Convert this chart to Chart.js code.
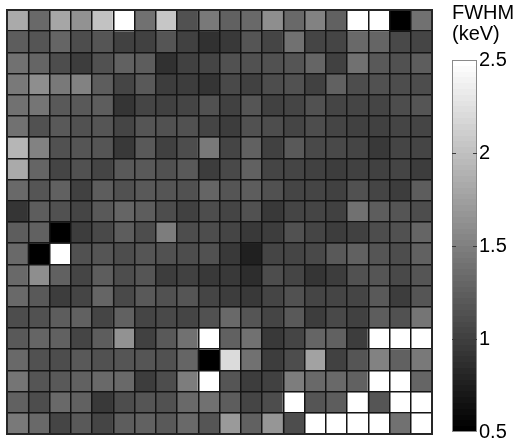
<!DOCTYPE html>
<html>
<head>
<meta charset="utf-8">
<title>FWHM map</title>
<script src="https://cdn.jsdelivr.net/npm/chart.js@4.4.1/dist/chart.umd.min.js"></script>
<style>
  html, body { margin: 0; padding: 0; background: #fff; overflow: hidden; }
  #mapBox { position: absolute; left: 0; top: 0; width: 440px; height: 442px; }
  #barBox { position: absolute; left: 440px; top: 0; width: 80px; height: 442px; }
</style>
</head>
<body>
<div id="mapBox"><canvas id="map"></canvas></div>
<div id="barBox"><canvas id="bar"></canvas></div>
<script>
// Pixel columns of the detector, left to right
const pixelColumns = ['1','2','3','4','5','6','7','8','9','10','11','12','13','14','15','16','17','18','19','20'];

// FWHM per pixel (keV), one array per detector row, top to bottom.
// Values above 2.5 or below 0.5 saturate the colour scale.
const row01 = [1.82,1.33,1.79,1.63,2.00,2.60,1.39,2.04,1.13,1.44, 1.25,1.32,1.60,1.33,1.50,1.25,2.60,2.60,0.40,1.38];
const row02 = [1.22,1.17,1.30,1.10,1.17,1.00,1.00,1.17,1.00,0.88, 0.94,1.17,1.06,1.39,1.06,1.04,1.33,1.30,1.08,1.06];
const row03 = [1.38,1.30,1.10,0.97,1.14,1.25,1.22,0.88,1.00,1.06, 1.14,1.14,1.13,1.17,1.30,1.02,1.38,1.19,1.14,1.24];
const row04 = [1.44,1.60,1.44,1.50,1.22,1.04,1.19,0.97,0.99,0.92, 1.08,1.00,1.10,1.13,1.00,1.25,1.10,1.14,1.10,1.10];
const row05 = [1.38,1.41,1.19,1.19,1.22,0.92,1.06,1.00,1.04,1.13, 1.00,1.17,1.00,1.04,1.14,1.06,1.04,1.04,1.10,1.17];
const row06 = [1.38,1.13,1.19,1.14,1.17,1.04,1.17,1.13,1.13,1.06, 0.97,1.14,1.10,1.06,1.10,1.04,1.00,1.02,1.06,1.06];
const row07 = [1.91,1.50,1.13,1.17,1.17,0.96,1.19,1.00,1.10,1.44, 1.06,1.28,1.00,1.19,1.08,1.08,1.06,0.94,1.06,1.04];
const row08 = [1.82,1.30,1.06,1.14,1.06,1.19,1.19,1.14,1.19,0.97, 1.08,1.27,1.06,1.04,1.00,0.99,1.00,1.02,1.04,0.97];
const row09 = [1.32,1.17,1.25,1.00,1.22,1.14,1.19,1.17,1.14,1.30, 1.17,1.22,1.14,1.06,1.06,1.00,1.14,1.06,0.97,1.22];
const row10 = [0.92,1.22,1.14,1.06,1.19,1.30,1.22,1.10,1.00,1.10, 1.04,1.14,0.94,1.06,1.04,1.00,1.38,1.22,1.17,1.10];
const row11 = [1.22,1.27,0.40,0.97,1.08,1.22,1.10,1.47,1.10,1.10, 1.06,0.94,0.97,1.14,1.06,0.99,1.02,1.10,1.13,1.30];
const row12 = [1.33,0.40,2.60,1.14,1.17,1.10,1.17,1.14,1.10,1.14, 0.94,0.77,1.04,1.04,1.08,1.21,1.27,1.17,1.10,1.27];
const row13 = [1.33,1.60,1.27,1.06,1.22,1.10,1.17,0.97,1.00,0.94, 0.96,0.86,1.10,1.04,0.92,0.97,1.14,1.17,1.08,1.17];
const row14 = [1.33,1.21,0.97,1.04,1.30,1.08,1.21,1.13,1.17,1.04, 0.99,0.94,1.04,1.13,1.06,1.04,1.06,1.19,0.97,1.17];
const row15 = [1.10,1.14,1.22,1.25,1.06,1.27,1.04,1.08,1.04,1.13, 1.33,1.17,1.06,1.19,0.97,1.08,1.02,1.22,1.13,1.43];
const row16 = [1.19,1.30,1.28,1.06,1.22,1.63,1.02,1.19,1.38,2.60, 1.27,1.38,0.94,1.06,1.30,1.25,0.99,2.60,2.60,2.60];
const row17 = [1.33,1.13,1.10,1.19,1.13,1.17,1.17,1.14,1.30,0.40, 2.19,1.38,0.97,1.10,1.75,1.02,1.17,1.50,1.28,1.44];
const row18 = [1.43,1.17,1.19,1.25,1.32,1.32,0.97,1.10,1.47,2.60, 1.17,0.97,1.00,1.47,1.33,1.33,1.25,2.60,2.60,1.30];
const row19 = [1.27,1.10,1.33,1.27,0.94,1.10,1.17,1.14,1.32,1.39, 1.22,1.06,1.10,2.60,1.17,1.22,2.60,1.17,2.60,2.60];
const row20 = [1.44,1.32,1.04,1.19,1.06,1.22,1.27,1.19,1.33,1.17, 1.71,1.25,1.66,1.10,2.60,2.60,2.60,2.60,1.38,2.60];

const pixelRows = [row01,row02,row03,row04,row05,row06,row07,row08,row09,row10,
                   row11,row12,row13,row14,row15,row16,row17,row18,row19,row20];

// Colour scale limits and colour-bar ticks (keV)
const colorMin = 0.5;
const colorMax = 2.5;
const colorTicks = [0.5, 1, 1.5, 2, 2.5];
const colorLevels = 64;

Chart.defaults.font.family = "'Liberation Sans', Arial, Helvetica, sans-serif";
Chart.defaults.color = '#000';

// 64-step gray colormap
function levelGray(i) {
  const g = Math.round(i * 255 / (colorLevels - 1));
  return 'rgb(' + g + ',' + g + ',' + g + ')';
}
function grayFor(v) {
  let i = Math.floor((v - colorMin) / (colorMax - colorMin) * colorLevels);
  i = Math.max(0, Math.min(colorLevels - 1, i));
  return levelGray(i);
}

// Pixel grid: dark lines between cells drawn by the axes themselves, on top of the cells
const cellGrid = {
  display: true,
  drawOnChartArea: true,
  drawTicks: false,
  color: '#151515',
  lineWidth: 1.5,
  z: 1
};
const hiddenTicks = { display: false };
const collapse = (scale) => {
  if (scale.isHorizontal()) { scale.height = 0; } else { scale.width = 0; }
  scale.paddingTop = scale.paddingBottom = scale.paddingLeft = scale.paddingRight = 0;
};

// Dark frame around the pixel map
const mapFrame = {
  id: 'mapFrame',
  afterDraw(chart) {
    const a = chart.chartArea, ctx = chart.ctx;
    ctx.save();
    ctx.strokeStyle = '#262626';
    ctx.lineWidth = 2;
    ctx.strokeRect(a.left, a.top, a.right - a.left, a.bottom - a.top);
    ctx.restore();
  }
};

// Each detector row is a stacked dataset of unit-height cells, shaded by FWHM
new Chart(document.getElementById('map'), {
  type: 'bar',
  data: {
    labels: pixelColumns,
    datasets: pixelRows.map((vals, r) => ({
      label: 'row ' + (r + 1),
      data: vals.map(() => 1),
      backgroundColor: vals.map(grayFor),
      borderWidth: 0,
      inflateAmount: 0.5,
      barPercentage: 1,
      categoryPercentage: 1
    }))
  },
  options: {
    responsive: true,
    maintainAspectRatio: false,
    animation: false,
    devicePixelRatio: 1,
    layout: { padding: { left: 7, top: 10, right: 8, bottom: 8 } },
    scales: {
      x: {
        stacked: true,
        grid: Object.assign({ offset: true }, cellGrid),
        ticks: hiddenTicks,
        border: { display: false },
        afterFit: collapse
      },
      y: {
        stacked: true,
        min: 0, max: pixelRows.length, reverse: true,
        grid: cellGrid,
        ticks: Object.assign({ stepSize: 1 }, hiddenTicks),
        border: { display: false },
        afterFit: collapse
      }
    },
    plugins: { legend: { display: false }, tooltip: { enabled: false } }
  },
  plugins: [mapFrame]
});

// Short inward tick marks on both edges of the colour bar
const barTicks = {
  id: 'barTicks',
  afterDatasetsDraw(chart) {
    const y = chart.scales.y, a = chart.chartArea, ctx = chart.ctx;
    ctx.save();
    ctx.strokeStyle = '#3a3a3a';
    ctx.lineWidth = 1;
    colorTicks.filter(v => v > colorMin && v < colorMax).forEach(v => {
      const py = Math.round(y.getPixelForValue(v)) + 0.5;
      ctx.beginPath();
      ctx.moveTo(a.left, py); ctx.lineTo(a.left + 4, py);
      ctx.moveTo(a.right - 4, py); ctx.lineTo(a.right, py);
      ctx.stroke();
    });
    ctx.restore();
  }
};

function barGradient(ctx) {
  const area = ctx.chart.chartArea;
  if (!area) return '#808080';
  const g = ctx.chart.ctx.createLinearGradient(0, area.bottom, 0, area.top);
  for (let i = 0; i < colorLevels; i++) {
    g.addColorStop(i / colorLevels, levelGray(i));
    g.addColorStop((i + 1) / colorLevels, levelGray(i));
  }
  return g;
}

new Chart(document.getElementById('bar'), {
  type: 'bar',
  data: {
    labels: ['FWHM'],
    datasets: [{
      data: [[colorMin, colorMax]],
      backgroundColor: barGradient,
      borderColor: '#8a8a8a',
      borderWidth: 1,
      borderSkipped: false,
      inflateAmount: 0,
      barPercentage: 1,
      categoryPercentage: 1
    }]
  },
  options: {
    responsive: true,
    maintainAspectRatio: false,
    animation: false,
    devicePixelRatio: 1,
    layout: { padding: { left: 12, top: 0, right: 0, bottom: 10 } },
    scales: {
      x: { display: false },
      y: {
        position: 'right',
        min: colorMin,
        max: colorMax,
        afterBuildTicks(scale) { scale.ticks = colorTicks.map(v => ({ value: v })); },
        afterFit(scale) { scale.width = 43; scale.paddingTop = 0; scale.paddingBottom = 0; },
        ticks: { padding: 2, color: '#000', font: { size: 20, lineHeight: 1 }, callback: (v) => String(v) },
        grid: { display: false, drawTicks: false },
        border: { display: false }
      }
    },
    plugins: {
      legend: { display: false },
      tooltip: { enabled: false },
      title: {
        display: true,
        text: ['FWHM', '(keV)'],
        align: 'start',
        color: '#000',
        font: { size: 20, weight: 'normal', lineHeight: 1.05 },
        padding: { top: 3, bottom: 15 }
      }
    }
  },
  plugins: [barTicks]
});
</script>
</body>
</html>
